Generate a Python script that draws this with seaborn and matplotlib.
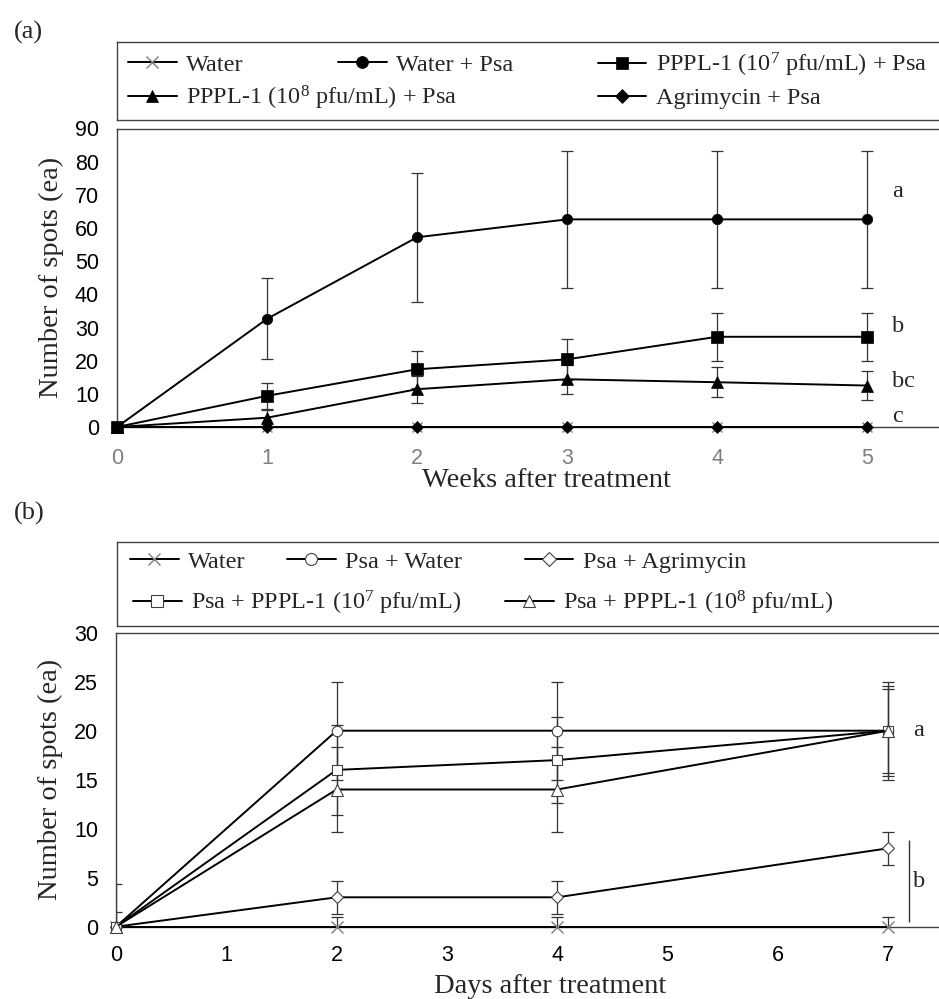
import matplotlib
matplotlib.use('Agg')
import matplotlib.pyplot as plt
import seaborn as sns
import numpy as np
from matplotlib.lines import Line2D

# ---- panel (a): weeks after treatment ----
weeks = [0, 1, 2, 3, 4, 5]
a_labels = ['Water', 'Water + Psa', 'PPPL-1 (10$^{7}$ pfu/mL) + Psa',
            'PPPL-1 (10$^{8}$ pfu/mL) + Psa', 'Agrimycin + Psa']
a_water = [0, 0, 0, 0, 0, 0]
a_water_err = [0, 0, 0, 0, 0, 0]
a_water_psa = [0, 32.6, 57.2, 62.6, 62.6, 62.6]
a_water_psa_err = [0, 12.2, 19.4, 20.6, 20.6, 20.6]
a_pppl7 = [0, 9.4, 17.4, 20.4, 27.2, 27.2]
a_pppl7_err = [0, 4.0, 5.6, 6.1, 7.3, 7.3]
a_pppl8 = [0, 2.8, 11.4, 14.4, 13.5, 12.5]
a_pppl8_err = [0, 2.4, 4.1, 4.4, 4.5, 4.3]
a_agri = [0, 0, 0, 0, 0, 0]
a_agri_err = [0, 0, 0, 0, 0, 0]
a_letters = ['a', 'b', 'bc', 'c']
a_letter_y = [69.2, 28.5, 12.2, 1.6]

# ---- panel (b): days after treatment ----
days = [0, 2, 4, 7]
b_labels = ['Water', 'Psa + Water', 'Psa + Agrimycin',
            'Psa + PPPL-1 (10$^{7}$ pfu/mL)', 'Psa + PPPL-1 (10$^{8}$ pfu/mL)']
b_water = [0, 0, 0, 0]
b_water_err = [0, 1.0, 1.0, 1.0]
b_psa_water = [0, 20, 20, 20]
b_psa_water_err = [4.4, 5.0, 5.0, 5.0]
b_agri = [0, 3, 3, 8]
b_agri_err = [1.5, 1.7, 1.7, 1.7]
b_pppl7 = [0, 16, 17, 20]
b_pppl7_err = [0, 4.6, 4.4, 4.6]
b_pppl8 = [0, 14, 14, 20]
b_pppl8_err = [0, 4.3, 4.3, 4.3]
b_letters = ['a', 'b']
b_letter_y = [19.5, 4.1]

sns.set_theme(style='white')
plt.rcParams['font.family'] = ['Liberation Serif', 'DejaVu Serif']
plt.rcParams['mathtext.fontset'] = 'custom'
plt.rcParams['mathtext.rm'] = 'Liberation Serif'
plt.rcParams['mathtext.default'] = 'regular'

LFS = 20.5    # axis labels
GFS = 17.5    # legend / letters
TFS = 15.5    # tick labels
GREY = '#7f7f7f'
EDGE = '#404040'

# marker styles per series
a_styles = [
    dict(marker='x', ms=7, mfc=GREY, mec=GREY, mew=1.0),
    dict(marker='o', ms=7.5, mfc='black', mec='black', mew=0.5),
    dict(marker='s', ms=8, mfc='black', mec='black', mew=0.5),
    dict(marker='^', ms=8, mfc='black', mec='black', mew=0.5),
    dict(marker='D', ms=6, mfc='black', mec='black', mew=0.5),
]
b_styles = [
    dict(marker='x', ms=8, mfc=GREY, mec=GREY, mew=1.0),
    dict(marker='o', ms=7.5, mfc='white', mec=EDGE, mew=0.8),
    dict(marker='D', ms=6, mfc='white', mec=EDGE, mew=0.8),
    dict(marker='s', ms=7, mfc='white', mec=EDGE, mew=0.8),
    dict(marker='^', ms=8, mfc='white', mec=EDGE, mew=0.8),
]

fig = plt.figure(figsize=(9.39, 9.99), dpi=100)
W, H = 939, 999


def fig_rect(x0, y_top, x1, y_bot):
    return [x0 / W, 1 - y_bot / H, (x1 - x0) / W, (y_bot - y_top) / H]


def draw_panel(ax, x, series, errs, styles):
    for i in range(len(series)):
        sel = np.array(errs[i]) > 0
        ax.errorbar(np.array(x)[sel], np.array(series[i])[sel], yerr=np.array(errs[i])[sel],
                    fmt='none', ecolor='#333333', elinewidth=0.9, capsize=4, capthick=0.9,
                    zorder=2)
    for i in range(len(series)):
        sns.lineplot(x=x, y=series[i], color='black', lw=1.4, ax=ax, clip_on=False,
                     zorder=3 + i, **styles[i])


def legend_box(rect, labels, styles, positions):
    lax = fig.add_axes(rect)
    lax.set_xticks([])
    lax.set_yticks([])
    for side in ['top', 'left', 'bottom']:
        lax.spines[side].set_color(EDGE)
        lax.spines[side].set_linewidth(1.0)
    lax.spines['right'].set_visible(False)
    for lab, st, (px, py) in zip(labels, styles, positions):
        h = Line2D([], [], color='black', lw=1.4, **st)
        leg = lax.legend(handles=[h], labels=[lab], loc='center left',
                         bbox_to_anchor=(px, py), frameon=False, fontsize=GFS,
                         handlelength=2.0, handletextpad=0.4, borderpad=0,
                         borderaxespad=0, markerscale=1.15)
        lax.add_artist(leg)
    lax.legend_ = None
    return lax


def style_axes(ax):
    for side in ['top', 'left', 'bottom']:
        ax.spines[side].set_color(EDGE)
        ax.spines[side].set_linewidth(1.0)
    ax.spines['right'].set_visible(False)


# ================= panel (a) =================
ax_a = fig.add_axes(fig_rect(117, 128.5, 939, 427))
draw_panel(ax_a, weeks,
           [a_water, a_water_psa, a_pppl7, a_pppl8, a_agri],
           [a_water_err, a_water_psa_err, a_pppl7_err, a_pppl8_err, a_agri_err],
           a_styles)
ax_a.set_xlim(0, 822 / 150)
ax_a.set_ylim(0, 90)
ax_a.set_yticks(range(0, 91, 10))
ax_a.set_xticks(weeks)
ax_a.tick_params(axis='y', direction='in', length=5, width=1, colors=EDGE,
                 labelcolor='black', labelsize=TFS, pad=13, labelfontfamily='Liberation Sans')
ax_a.tick_params(axis='x', length=0, labelcolor=GREY, labelsize=TFS, pad=15,
                 labelfontfamily='Liberation Sans')
style_axes(ax_a)
ax_a.set_xlabel('Weeks after treatment', fontsize=LFS)
ax_a.set_ylabel('Number of spots (ea)', fontsize=LFS)
ax_a.xaxis.set_label_coords(0.522, -0.138)
ax_a.yaxis.set_label_coords(-0.064, 0.5)
for t, yv in zip(a_letters, a_letter_y):
    ax_a.text(5.17, yv, t, fontsize=GFS, ha='left', va='baseline')

legend_box(fig_rect(117, 42.3, 939, 120), a_labels, a_styles,
           [(0.0134, 0.708), (0.269, 0.708), (0.585, 0.708),
            (0.0134, 0.283), (0.585, 0.283)])

# ================= panel (b) =================
ax_b = fig.add_axes(fig_rect(116, 632.7, 939, 926.7))
draw_panel(ax_b, days,
           [b_water, b_psa_water, b_agri, b_pppl7, b_pppl8],
           [b_water_err, b_psa_water_err, b_agri_err, b_pppl7_err, b_pppl8_err],
           b_styles)
ax_b.set_xlim(0, 823 / 110.3)
ax_b.set_ylim(0, 30)
ax_b.set_yticks(range(0, 31, 5))
ax_b.set_xticks(range(0, 8))
ax_b.tick_params(axis='y', direction='in', length=5, width=1, colors=EDGE,
                 labelcolor='black', labelsize=TFS, pad=13, labelfontfamily='Liberation Sans')
ax_b.tick_params(axis='x', direction='in', length=5, width=1, colors=EDGE,
                 labelcolor='black', labelsize=TFS, pad=13, labelfontfamily='Liberation Sans')
style_axes(ax_b)
ax_b.set_xlabel('Days after treatment', fontsize=LFS)
ax_b.set_ylabel('Number of spots (ea)', fontsize=LFS)
ax_b.xaxis.set_label_coords(0.527, -0.162)
ax_b.yaxis.set_label_coords(-0.064, 0.5)
for t, yv in zip(b_letters, b_letter_y):
    ax_b.text(7.23, yv, t, fontsize=GFS, ha='left', va='baseline')
ax_b.vlines(7.19, 0.5, 8.8, color='#333333', lw=1.0)

legend_box(fig_rect(117, 542, 939, 626), b_labels, b_styles,
           [(0.0158, 0.765), (0.207, 0.765), (0.496, 0.765),
            (0.0195, 0.274), (0.472, 0.274)])

fig.text(14 / W, 1 - 32 / H, '(a)', fontsize=19, ha='left', va='center')
fig.text(14 / W, 1 - 513 / H, '(b)', fontsize=19, ha='left', va='center')

fig.savefig('out.png', dpi=100, facecolor='white')
